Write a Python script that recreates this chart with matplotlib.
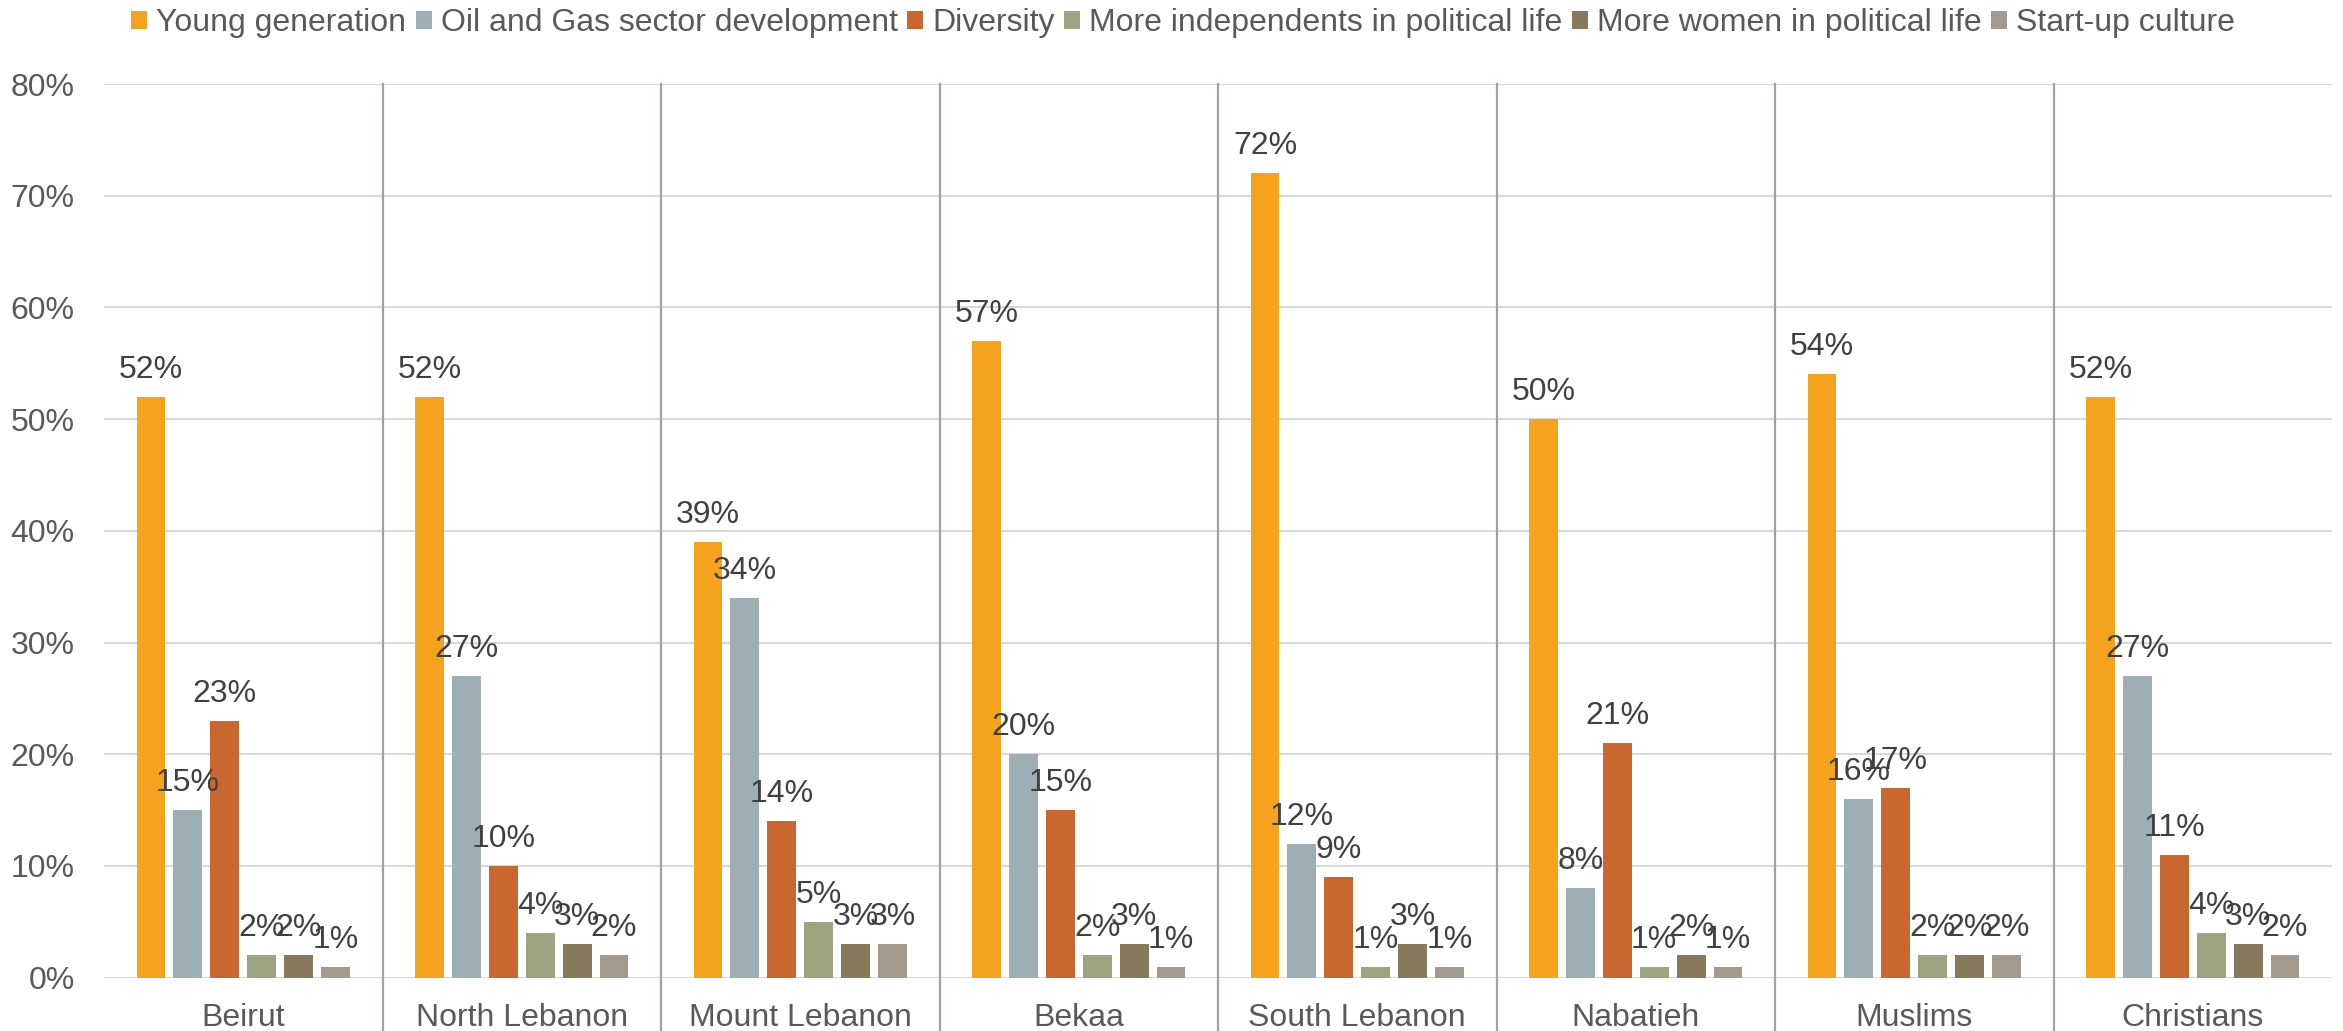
import matplotlib.pyplot as plt
from matplotlib.patches import Patch
import numpy as np

plt.rcParams['font.family'] = ['Liberation Sans', 'DejaVu Sans']

categories = ['Beirut', 'North Lebanon', 'Mount Lebanon', 'Bekaa',
              'South Lebanon', 'Nabatieh', 'Muslims', 'Christians']
series_names = ['Young generation', 'Oil and Gas sector development', 'Diversity',
                'More independents in political life', 'More women in political life',
                'Start-up culture']
young = [52, 52, 39, 57, 72, 50, 54, 52]
oil_gas = [15, 27, 34, 20, 12, 8, 16, 27]
diversity = [23, 10, 14, 15, 9, 21, 17, 11]
independents = [2, 4, 5, 2, 1, 1, 2, 4]
women = [2, 3, 3, 3, 3, 2, 2, 3]
startup = [1, 2, 3, 1, 1, 1, 2, 2]
yticks = [0, 10, 20, 30, 40, 50, 60, 70, 80]

colors = ['#F5A31F', '#9DAFB5', '#C96730', '#9CA37F', '#877A5C', '#A39A8D']
series = [young, oil_gas, diversity, independents, women, startup]

W, H = 2343, 1031
fig = plt.figure(figsize=(W / 100, H / 100), dpi=100)
ax = fig.add_axes([104 / W, (H - 977.7) / H, 2228 / W, 893.7 / H])

fs = 23
pitch = 0.1325
width = 0.1036
x = np.arange(len(categories))

for i, (vals, col) in enumerate(zip(series, colors)):
    pos = x + (i - 2.5) * pitch
    ax.bar(pos, [v / 100 for v in vals], width=width, color=col, zorder=3)
    for px, v in zip(pos, vals):
        ax.annotate(f'{v}%', (px, v / 100), xytext=(0, 13.7), textcoords='offset points',
                    ha='center', va='baseline', fontsize=fs, color='#404040', zorder=4)

ax.set_xlim(-0.5, len(categories) - 0.5)
ax.set_ylim(0, 0.8)
ax.set_yticks([t / 100 for t in yticks])
ax.set_yticklabels([f'{t}%' for t in yticks])
ax.set_xticks(x)
ax.set_xticklabels(categories)
ax.tick_params(axis='both', length=0, labelsize=fs, labelcolor='#595959')
ax.tick_params(axis='y', pad=21)
ax.tick_params(axis='x', pad=18)
ax.grid(axis='y', color='#D9D9D9', linewidth=1.5, zorder=0)
for s in ax.spines.values():
    s.set_visible(False)

# category separators reaching below the axis
for b in x[:-1] + 0.5:
    ax.axvline(b, ymin=-0.06, ymax=1, color='#A8A196', linewidth=1.6,
               clip_on=False, zorder=2)

handles = [Patch(facecolor=c, edgecolor='none') for c in colors]
fig.legend(handles, series_names, loc='center', bbox_to_anchor=(1183 / W, 1 - 23 / H),
           ncol=6, frameon=False, fontsize=fs, labelcolor='#595959',
           handlelength=0.5, handleheight=0.5, handletextpad=0.28,
           columnspacing=0.3, borderpad=0, borderaxespad=0)

fig.savefig('out.png', dpi=100)
